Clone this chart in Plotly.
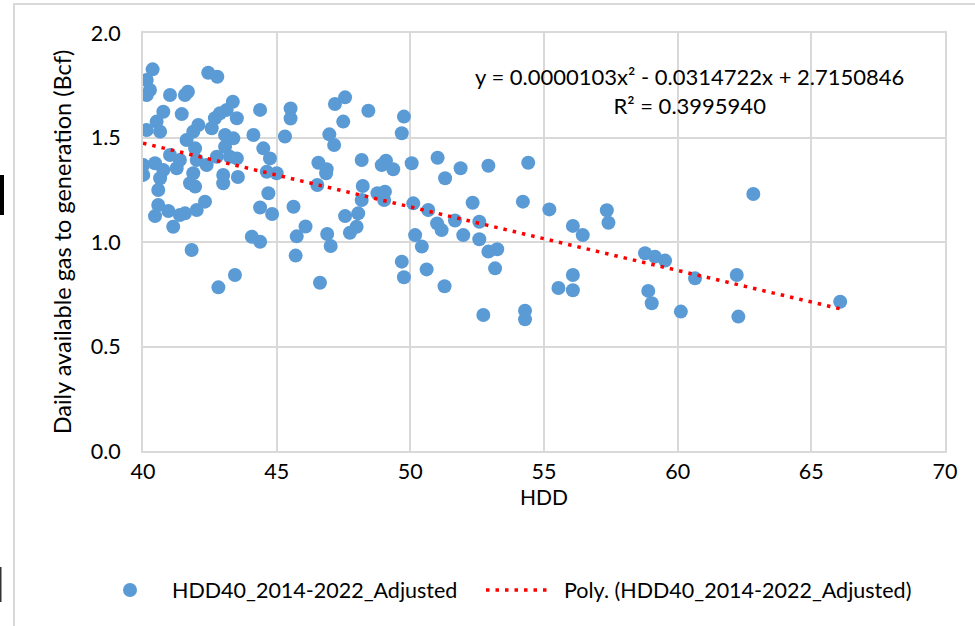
import plotly.graph_objects as go
import numpy as np

# Scatter data (HDD vs daily available gas, Bcf)
hdd = [40.36, 40.14, 40.26, 40.14, 41.01, 41.57, 41.68, 42.44, 42.78, 40.76,
       41.45, 43.36, 44.38, 45.52, 45.52, 40.51, 40.14, 40.64, 42.07, 41.88,
       42.69, 42.57, 42.88, 43.13, 43.51, 43.07, 43.38, 44.13, 45.31, 41.63,
       40.01, 40.01, 40.45, 40.76, 40.64, 41.01, 41.38, 41.26, 41.95, 42.01,
       42.38, 42.76, 43.07, 43.25, 43.51, 41.88, 41.76, 41.95, 43.00, 43.00,
       43.55, 44.50, 44.75, 44.63, 45.00, 44.69, 45.63, 40.57, 40.57, 40.45,
       40.95, 41.57, 42.01, 42.32, 41.38, 44.38, 44.83, 41.13, 46.08, 45.75,
       44.07, 44.38, 41.82, 45.71, 43.44, 42.82,
       47.56, 47.18, 48.43, 47.49, 49.76, 49.68, 46.97, 47.15, 48.18, 46.56,
       46.87, 46.85, 48.93, 49.09, 49.36, 50.05, 51.02, 51.30, 51.88, 46.52,
       48.22, 48.18, 48.77, 49.05, 49.02, 50.11, 50.67, 51.67, 48.05, 47.56,
       47.99, 47.74, 51.00, 51.17, 50.18, 50.43, 46.89, 47.02, 49.68, 49.76,
       50.61, 51.28, 46.62,
       52.92, 54.41, 52.33, 54.21, 51.98, 52.58, 52.58, 52.92, 53.25, 53.17,
       55.20, 56.08, 56.45, 57.35, 57.41, 56.08, 55.54, 56.08, 52.73, 54.29,
       54.29,
       62.83, 58.78, 59.15, 59.53, 60.65, 62.21, 58.90, 59.03, 60.12, 62.27,
       66.08]
gas = [1.826, 1.775, 1.727, 1.703, 1.703, 1.703, 1.719, 1.810, 1.791, 1.623,
       1.612, 1.671, 1.632, 1.639, 1.591, 1.576, 1.536, 1.528, 1.560, 1.528,
       1.592, 1.544, 1.616, 1.632, 1.592, 1.512, 1.496, 1.512, 1.505, 1.488,
       1.368, 1.321, 1.377, 1.344, 1.305, 1.416, 1.392, 1.353, 1.448, 1.392,
       1.368, 1.408, 1.456, 1.408, 1.400, 1.329, 1.281, 1.265, 1.321, 1.281,
       1.311, 1.448, 1.400, 1.336, 1.329, 1.233, 1.169, 1.249, 1.177, 1.124,
       1.148, 1.137, 1.153, 1.193, 1.129, 1.165, 1.134, 1.073, 1.074, 1.027,
       1.025, 1.001, 0.962, 0.935, 0.842, 0.783,
       1.692, 1.660, 1.628, 1.576, 1.600, 1.520, 1.515, 1.464, 1.392, 1.379,
       1.348, 1.329, 1.368, 1.389, 1.348, 1.377, 1.403, 1.305, 1.353, 1.273,
       1.268, 1.201, 1.233, 1.241, 1.201, 1.185, 1.153, 1.103, 1.137, 1.124,
       1.073, 1.044, 1.089, 1.057, 1.033, 0.978, 1.038, 0.981, 0.906, 0.831,
       0.869, 0.788, 0.805,
       1.365, 1.379, 1.188, 1.193, 1.033, 1.097, 1.013, 0.954, 0.965, 0.874,
       1.156, 1.077, 1.033, 1.152, 1.092, 0.842, 0.780, 0.769, 0.651, 0.671,
       0.630,
       1.230, 0.946, 0.930, 0.911, 0.826, 0.842, 0.766, 0.707, 0.667, 0.643,
       0.714]

# Polynomial trendline coefficients shown on the chart
c2, c1, c0 = 0.0000103, -0.0314722, 2.7150846
eq_text = "y = 0.0000103x² - 0.0314722x + 2.7150846<br>R² = 0.3995940"

x_ticks = [40, 45, 50, 55, 60, 65, 70]
y_ticks = [0.0, 0.5, 1.0, 1.5, 2.0]

series_name = "HDD40_2014-2022_Adjusted"
trend_name = "Poly. (HDD40_2014-2022_Adjusted)"

FONT = "Lato"
BLUE = "#5B9BD5"
RED = "#FF0000"

# plot-area geometry in pixels (used only for paper-coordinate conversion)
L, R, T, B = 143, 945, 33, 451
W, H = R - L, B - T


def px(x):
    return (x - L) / W


def py(y):
    return (B - y) / H


tx = np.linspace(40, max(hdd), 200)
ty = c2 * tx**2 + c1 * tx + c0

fig = go.Figure()
fig.add_trace(go.Scatter(
    x=hdd, y=gas, mode="markers", name=series_name, showlegend=False,
    marker=dict(color=BLUE, size=14, line=dict(width=0)),
))
fig.add_trace(go.Scatter(
    x=tx, y=ty, mode="lines", name=trend_name, showlegend=False,
    line=dict(color=RED, width=3.5, dash="3.5px,6px"),
))

annotations = [
    dict(x=px(689), y=py(91), xref="paper", yref="paper",
         xanchor="center", yanchor="middle", text=eq_text, showarrow=False,
         align="center", font=dict(family=FONT, size=22, color="#000000")),
    # legend texts
    dict(x=px(170), y=py(590), xref="paper", yref="paper",
         xanchor="left", yanchor="middle", text=series_name, showarrow=False,
         font=dict(family=FONT, size=21.5, color="#000000")),
    dict(x=px(562), y=py(590), xref="paper", yref="paper",
         xanchor="left", yanchor="middle", text=trend_name, showarrow=False,
         font=dict(family=FONT, size=21.5, color="#000000")),
]

shapes = [
    # chart-area border
    dict(type="rect", xref="paper", yref="paper",
         x0=px(14), x1=1.2, y0=-0.6, y1=py(4),
         line=dict(color="#D9D9D9", width=2), fillcolor="rgba(0,0,0,0)"),
    # screenshot edge marks
    dict(type="rect", xref="paper", yref="paper",
         x0=px(0), x1=px(4), y0=py(215), y1=py(175),
         line=dict(width=0), fillcolor="#000000"),
    dict(type="rect", xref="paper", yref="paper",
         x0=px(0), x1=px(1.5), y0=py(602), y1=py(567),
         line=dict(width=0), fillcolor="#333333"),
    # legend symbols
    dict(type="circle", xref="paper", yref="paper",
         x0=px(123), x1=px(137), y0=py(597), y1=py(583),
         line=dict(width=0), fillcolor=BLUE),
    dict(type="line", xref="paper", yref="paper",
         x0=px(486), x1=px(552), y0=py(590), y1=py(590),
         line=dict(color=RED, width=3.5, dash="3.5px,6px")),
]

fig.update_layout(
    width=975, height=626,
    margin=dict(l=L, r=975 - R, t=T, b=626 - B),
    paper_bgcolor="white", plot_bgcolor="white",
    font=dict(family=FONT, size=21, color="#000000"),
    shapes=shapes, annotations=annotations,
    showlegend=False,
    xaxis=dict(range=[40, 70], tickvals=x_ticks, ticktext=[str(v) for v in x_ticks],
               showgrid=True, gridcolor="#D9D9D9", gridwidth=2,
               showline=True, linecolor="#D9D9D9", linewidth=2, mirror=True,
               zeroline=False, ticks="", ticklen=0, ticklabelstandoff=0,
               tickfont=dict(family=FONT, size=21.5, color="#000000"),
               title=dict(text="HDD", standoff=6,
                          font=dict(family=FONT, size=21, color="#000000"))),
    yaxis=dict(range=[0, 2.0], tickvals=y_ticks, ticktext=[f"{v:.1f}" for v in y_ticks],
               showgrid=True, gridcolor="#D9D9D9", gridwidth=2,
               showline=True, linecolor="#D9D9D9", linewidth=2, mirror=True,
               zeroline=False, ticks="", ticklen=0, ticklabelstandoff=16,
               tickfont=dict(family=FONT, size=21.5, color="#000000"),
               title=dict(text="Daily available gas to generation (Bcf)", standoff=12,
                          font=dict(family=FONT, size=23.5, color="#000000"))),
)

fig.write_html("out.html")
